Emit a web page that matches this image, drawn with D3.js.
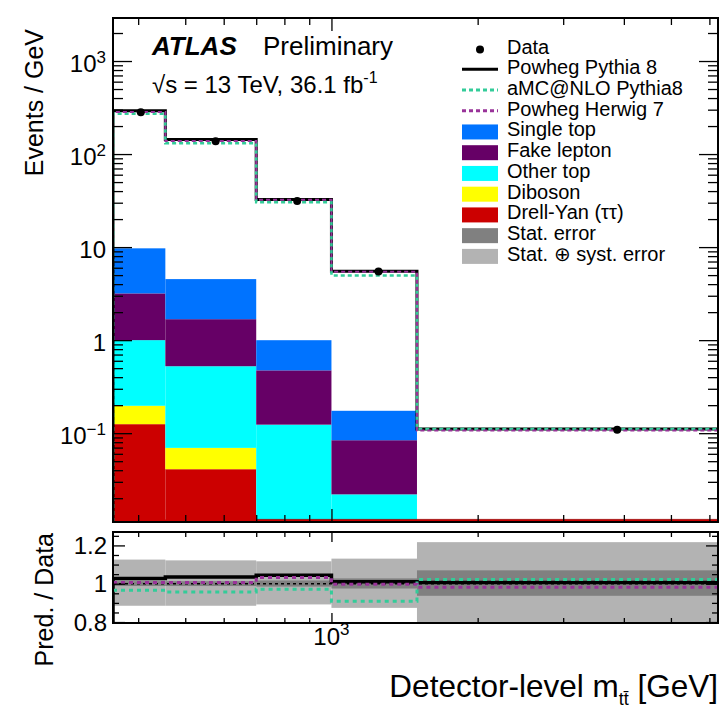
<!DOCTYPE html>
<html><head><meta charset="utf-8">
<script src="https://cdn.jsdelivr.net/npm/d3@7"></script>
<style>
body{margin:0;background:#fff}
svg{display:block}
text{font-family:"Liberation Sans",Arial,Helvetica,sans-serif;fill:#000}
</style>
</head><body>
<svg id="c" width="722" height="709"></svg>
<script>
// ---------------- data ----------------
const binEdges = [355, 455, 700, 1000, 1500, 6250];          // GeV
const dataValues      = [282, 137, 31.3, 5.45, 0.109];        // Events / GeV
const powhegPythia8   = [292, 143, 32.5, 5.5, 0.111];
const amcNloPythia8   = [272, 131, 30.4, 4.95, 0.111];
const powhegHerwig7   = [284, 138, 32.3, 5.45, 0.107];
// stacked backgrounds (per component, Events / GeV)
const drellYan   = [0.125, 0.041, 0.001, 0.0003, 0.0];
const diboson    = [0.072, 0.0285, 0.0005, 0.0002, 0.0];
const otherTop   = [0.803, 0.455, 0.122, 0.0215, 0.003];
const fakeLepton = [2.18, 1.155, 0.35, 0.062, 0.003];
const singleTop  = [6.52, 2.85, 0.525, 0.09, 0.003];
// ratio panel
const ratioPowhegPythia8 = [1.027, 1.035, 1.044, 1.010, 1.006];
const ratioAmcNlo        = [0.966, 0.957, 0.971, 0.909, 1.022];
const ratioHerwig7       = [1.006, 1.006, 1.032, 0.997, 0.982];
const statLow   = [0.988, 0.988, 0.985, 0.975, 0.937];
const statHigh  = [1.013, 1.013, 1.017, 1.028, 1.070];
const totalLow  = [0.885, 0.885, 0.892, 0.874, 0.780];
const totalHigh = [1.126, 1.122, 1.117, 1.131, 1.217];
// ticks
const yMajorTicks = [0.1, 1, 10, 100, 1000];
const yTickLabels = [["10","−1"],["1",""],["10",""],["10","2"],["10","3"]];
const xMajorTicks = [1000];
const xTickLabels = [["10","3"]];
const rMajorTicks = [0.8, 1.0, 1.2];
const rTickLabels = ["0.8", "1", "1.2"];
const legendLabels = ["Data","Powheg Pythia 8","aMC@NLO Pythia8","Powheg Herwig 7","Single top","Fake lepton","Other top","Diboson","Drell-Yan (ττ)","Stat. error","Stat. ⊕ syst. error"];

// ---------------- styles ----------------
const colSingleTop = "#0073ff", colFake = "#660066", colOther = "#00ffff",
      colDiboson = "#ffff00", colDY = "#cc0000", colStat = "#808080", colTot = "#b3b3b3",
      colAmc = "#33cc99", colHerwig = "#993399";

const L = 113, R = 718, T = 18, B = 522, RT = 532, RB = 623;
const yMin = 0.0111, yMax = 2900;

const svg = d3.select("#c");
const x = d3.scaleLog().domain([binEdges[0], binEdges[binEdges.length-1]]).range([L, R]);
const y = d3.scaleLog().domain([yMin, yMax]).range([B, T]);
const yr = d3.scaleLinear().domain([0.795, 1.27]).range([RB, RT]);

const defs = svg.append("defs");
defs.append("clipPath").attr("id","clipMain").append("rect").attr("x",L).attr("y",T).attr("width",R-L).attr("height",B-T);
defs.append("clipPath").attr("id","clipRatio").append("rect").attr("x",L).attr("y",RT).attr("width",R-L).attr("height",RB-RT);

const nb = dataValues.length;
const bins = d3.range(nb).map(i => ({i, lo: binEdges[i], hi: binEdges[i+1]}));

// ---------------- main panel ----------------
const gMain = svg.append("g").attr("clip-path","url(#clipMain)");

const rows = bins.map(b => ({
  dy: drellYan[b.i], db: diboson[b.i], ot: otherTop[b.i], fk: fakeLepton[b.i], st: singleTop[b.i]
}));
const keys = ["dy","db","ot","fk","st"];
const colors = {dy: colDY, db: colDiboson, ot: colOther, fk: colFake, st: colSingleTop};
const stacked = d3.stack().keys(keys)(rows);
const yc = v => y(Math.max(v, yMin*0.5));
stacked.forEach(layer => {
  gMain.selectAll(null).data(layer).enter().append("rect")
    .attr("x", (d,i) => x(bins[i].lo))
    .attr("width", (d,i) => x(bins[i].hi) - x(bins[i].lo))
    .attr("y", d => yc(d[1]))
    .attr("height", d => Math.max(0, yc(d[0]) - yc(d[1])))
    .attr("fill", colors[layer.key]);
});
// DY outline along the bottom
gMain.append("line").attr("x1", L).attr("x2", R).attr("y1", B-1).attr("y2", B-1)
  .attr("stroke", colDY).attr("stroke-width", 3);
gMain.append("line").attr("x1", x(binEdges[2])).attr("x2", R).attr("y1", B-2.6).attr("y2", B-2.6)
  .attr("stroke", "#990000").attr("stroke-width", 0.8);

function stepPoints(vals) {
  const pts = vals.map((v,i) => [binEdges[i], v]);
  pts.push([binEdges[nb], vals[nb-1]]);
  return pts;
}
const mainLine = d3.line().curve(d3.curveStepAfter).x(d => x(d[0])).y(d => d[1] === null ? B : y(d[1]));
function mainStep(vals) {
  return mainLine([[binEdges[0], null]].concat(stepPoints(vals)));
}
gMain.append("path").attr("d", mainStep(powhegPythia8)).attr("fill","none")
  .attr("stroke","#000").attr("stroke-width",3);
gMain.append("path").attr("d", mainStep(amcNloPythia8)).attr("fill","none")
  .attr("stroke",colAmc).attr("stroke-width",2.6).attr("stroke-dasharray","4,3");
gMain.append("path").attr("d", mainStep(powhegHerwig7)).attr("fill","none")
  .attr("stroke",colHerwig).attr("stroke-width",2).attr("stroke-dasharray","4,3");

// data points
gMain.selectAll(null).data(bins).enter().append("circle")
  .attr("cx", b => x((b.lo + b.hi)/2)).attr("cy", b => y(dataValues[b.i])).attr("r", 4).attr("fill","#000");

// ---------------- axes helpers ----------------
function drawTicks(axisFn, scale, values, size, transform) {
  const g = svg.append("g").attr("transform", transform)
    .call(axisFn(scale).tickValues(values).tickSize(-size).tickFormat(""));
  g.select(".domain").remove();
  g.selectAll(".tick line").attr("stroke","#000").attr("stroke-width",1.3);
}
const isMajor = (v, majors) => majors.some(m => Math.abs(v - m) < 1e-9 * Math.max(1, m));

const xMinor = x.ticks().filter(v => !isMajor(v, xMajorTicks));
const yMinor = y.ticks().filter(v => !isMajor(v, yMajorTicks));
const rMinor = yr.ticks(10).filter(v => !rMajorTicks.some(m => Math.abs(v-m) < 1e-6));

// main panel ticks
drawTicks(d3.axisLeft, y, yMajorTicks, 19, `translate(${L},0)`);
drawTicks(d3.axisLeft, y, yMinor, 10, `translate(${L},0)`);
drawTicks(d3.axisRight, y, yMajorTicks, 19, `translate(${R},0)`);
drawTicks(d3.axisRight, y, yMinor, 10, `translate(${R},0)`);
drawTicks(d3.axisBottom, x, xMajorTicks, 13, `translate(0,${B})`);
drawTicks(d3.axisBottom, x, xMinor, 7, `translate(0,${B})`);
drawTicks(d3.axisTop, x, xMajorTicks, 13, `translate(0,${T})`);
drawTicks(d3.axisTop, x, xMinor, 7, `translate(0,${T})`);

svg.append("rect").attr("x",L).attr("y",T).attr("width",R-L).attr("height",B-T)
  .attr("fill","none").attr("stroke","#000").attr("stroke-width",2);

// y tick labels
yMajorTicks.forEach((v,i) => {
  const t = svg.append("text").attr("x", 106).attr("y", y(v) + 10.5)
    .attr("text-anchor","end").attr("font-size", 24).text(yTickLabels[i][0]);
  if (yTickLabels[i][1]) t.append("tspan").attr("dy", -9).attr("font-size", 17).text(yTickLabels[i][1]);
});

// y title
svg.append("text").attr("transform","translate(43,29) rotate(-90)").attr("text-anchor","end")
  .attr("font-size", 25).text("Events / GeV");

// header
svg.append("text").attr("x",152).attr("y",55).attr("font-size",26).attr("font-weight","bold")
  .attr("font-style","italic").text("ATLAS");
svg.append("text").attr("x",263).attr("y",55).attr("font-size",26).text("Preliminary");
const lum = svg.append("text").attr("x",152).attr("y",93).attr("font-size",24).text("√s = 13 TeV, 36.1 fb");
lum.append("tspan").attr("dy",-10).attr("font-size",16).text("-1");

// legend
const lx0 = 462, lx1 = 498, ltx = 507;
const lb = i => 53.5 + 20.74 * i;
const leg = svg.append("g");
legendLabels.forEach((lab, i) => {
  leg.append("text").attr("x", ltx).attr("y", lb(i)).attr("font-size", 20).text(lab);
});
leg.append("circle").attr("cx", (lx0+lx1)/2).attr("cy", lb(0)-4).attr("r", 4).attr("fill","#000");
leg.append("line").attr("x1",lx0).attr("x2",lx1).attr("y1",lb(1)-5).attr("y2",lb(1)-5).attr("stroke","#000").attr("stroke-width",3);
leg.append("line").attr("x1",lx0).attr("x2",lx1).attr("y1",lb(2)-5).attr("y2",lb(2)-5).attr("stroke",colAmc).attr("stroke-width",3).attr("stroke-dasharray","4,3");
leg.append("line").attr("x1",lx0).attr("x2",lx1).attr("y1",lb(3)-5).attr("y2",lb(3)-5).attr("stroke",colHerwig).attr("stroke-width",3).attr("stroke-dasharray","4,3");
[colSingleTop, colFake, colOther, colDiboson, colDY, colStat, colTot].forEach((c, k) => {
  const i = k + 4;
  leg.append("rect").attr("x",lx0).attr("y",lb(i)-12).attr("width",lx1-lx0).attr("height",15).attr("fill",c);
});

// ---------------- ratio panel ----------------
const gR = svg.append("g").attr("clip-path","url(#clipRatio)");
gR.selectAll(null).data(bins).enter().append("rect")
  .attr("x", b => x(b.lo)).attr("width", b => x(b.hi) - x(b.lo))
  .attr("y", b => yr(totalHigh[b.i])).attr("height", b => yr(totalLow[b.i]) - yr(totalHigh[b.i]))
  .attr("fill", colTot);
gR.selectAll(null).data(bins).enter().append("rect")
  .attr("x", b => x(b.lo)).attr("width", b => x(b.hi) - x(b.lo))
  .attr("y", b => yr(statHigh[b.i])).attr("height", b => yr(statLow[b.i]) - yr(statHigh[b.i]))
  .attr("fill", colStat);
gR.append("line").attr("x1",L).attr("x2",R).attr("y1",yr(1)).attr("y2",yr(1))
  .attr("stroke","#000").attr("stroke-width",1.5).attr("stroke-dasharray","3,3");
const rLine = d3.line().curve(d3.curveStepAfter).x(d => x(d[0])).y(d => d[1] === null ? RB : yr(d[1]));
gR.append("path").attr("d", rLine([[binEdges[0], null]].concat(stepPoints(ratioPowhegPythia8))))
  .attr("fill","none").attr("stroke","#000").attr("stroke-width",3.5);
gR.append("path").attr("d", rLine(stepPoints(ratioAmcNlo)))
  .attr("fill","none").attr("stroke",colAmc).attr("stroke-width",3).attr("stroke-dasharray","4,4");
gR.append("path").attr("d", rLine(stepPoints(ratioHerwig7)))
  .attr("fill","none").attr("stroke",colHerwig).attr("stroke-width",3).attr("stroke-dasharray","4,4");

drawTicks(d3.axisLeft, yr, rMajorTicks, 12, `translate(${L},0)`);
drawTicks(d3.axisLeft, yr, rMinor, 6, `translate(${L},0)`);
drawTicks(d3.axisRight, yr, rMajorTicks, 12, `translate(${R},0)`);
drawTicks(d3.axisRight, yr, rMinor, 6, `translate(${R},0)`);
drawTicks(d3.axisBottom, x, xMajorTicks, 10, `translate(0,${RB})`);
drawTicks(d3.axisBottom, x, xMinor, 5, `translate(0,${RB})`);
drawTicks(d3.axisTop, x, xMajorTicks, 10, `translate(0,${RT})`);
drawTicks(d3.axisTop, x, xMinor, 5, `translate(0,${RT})`);

svg.append("rect").attr("x",L).attr("y",RT).attr("width",R-L).attr("height",RB-RT)
  .attr("fill","none").attr("stroke","#000").attr("stroke-width",2);

rMajorTicks.forEach((v,i) => {
  svg.append("text").attr("x",107).attr("y", yr(v) + 8.5).attr("text-anchor","end")
    .attr("font-size",24).text(rTickLabels[i]);
});
svg.append("text").attr("transform","translate(53,533) rotate(-90)").attr("text-anchor","end")
  .attr("font-size",25).text("Pred. / Data");

// x tick labels
xMajorTicks.forEach((v,i) => {
  const t = svg.append("text").attr("x", x(v)).attr("y", 645).attr("text-anchor","middle")
    .attr("font-size",24).text(xTickLabels[i][0]);
  t.append("tspan").attr("dy",-10).attr("font-size",17).text(xTickLabels[i][1]);
});

// x title
const xt = svg.append("text").attr("x", R).attr("y", 697).attr("text-anchor","end").attr("font-size",31.5)
  .text("Detector-level m");
xt.append("tspan").attr("dy", 8).attr("font-size", 18).text("tt\u0304");
xt.append("tspan").attr("dy", -8).text(" [GeV]");
</script>
</body></html>
